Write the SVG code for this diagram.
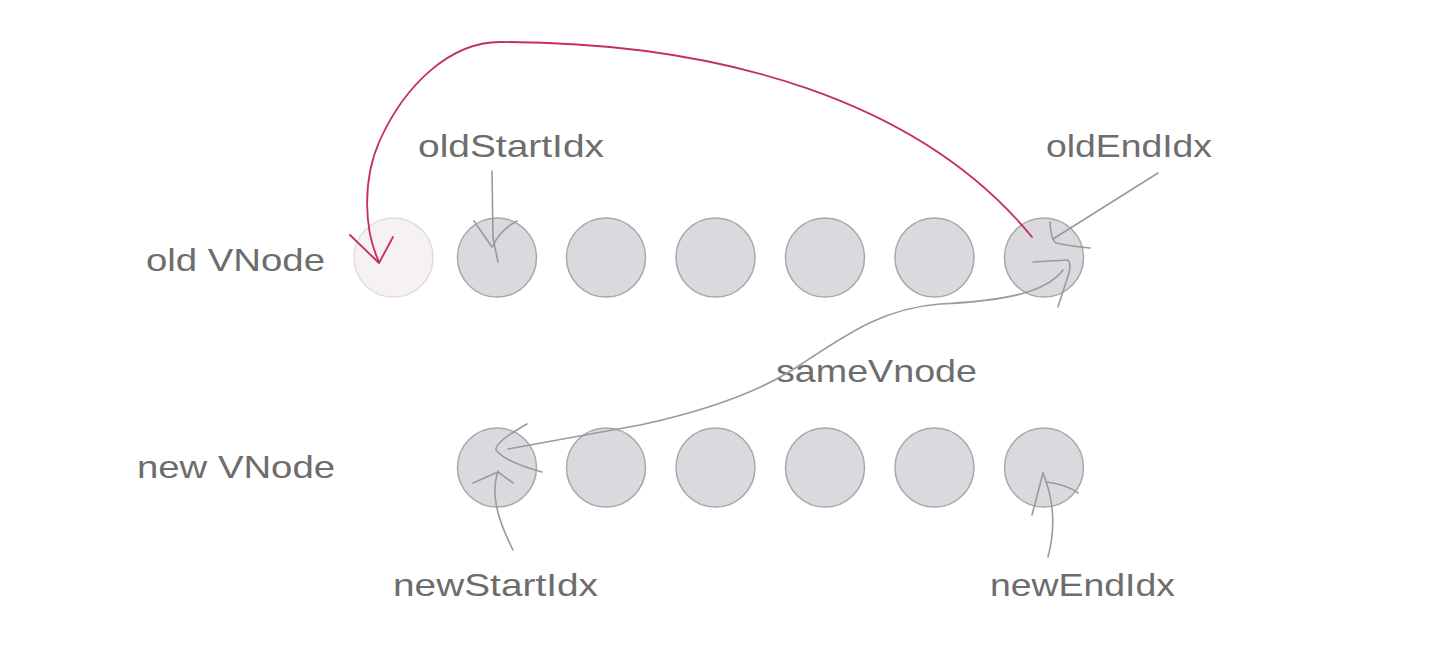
<svg xmlns="http://www.w3.org/2000/svg" width="1440" height="653" viewBox="0 0 1440 653">
<style>
.lbl{font-family:"Liberation Sans",Arial,sans-serif;font-size:30.5px;fill:#6d6d6d}
.node{fill:#dcd9de;stroke:#a9a7aa;stroke-width:1.5}
.ghost{fill:#f6f1f4;stroke:#e2dbdf;stroke-width:1.5}
.g{fill:none;stroke:#9a9a9a;stroke-width:1.6;stroke-linecap:round;stroke-linejoin:round}
.r{fill:none;stroke:#c3305a;stroke-width:1.8;stroke-linecap:round;stroke-linejoin:round}
</style>
<rect width="1440" height="653" fill="#ffffff"/>
<g id="labels">
<text class="lbl" x="146" y="271" textLength="179" lengthAdjust="spacingAndGlyphs">old VNode</text>
<text class="lbl" x="137" y="478" textLength="198" lengthAdjust="spacingAndGlyphs">new VNode</text>
<text class="lbl" x="418" y="157" textLength="186" lengthAdjust="spacingAndGlyphs">oldStartIdx</text>
<text class="lbl" x="1046" y="157" textLength="166" lengthAdjust="spacingAndGlyphs">oldEndIdx</text>
<text class="lbl" x="776" y="382" textLength="201" lengthAdjust="spacingAndGlyphs">sameVnode</text>
<text class="lbl" x="393" y="596" textLength="205" lengthAdjust="spacingAndGlyphs">newStartIdx</text>
<text class="lbl" x="990" y="596" textLength="185" lengthAdjust="spacingAndGlyphs">newEndIdx</text>
</g>
<g id="old-row">
<circle id="old-0" class="ghost" cx="393.5" cy="257.5" r="39.5"/>
<circle id="old-1" class="node" cx="497" cy="257.5" r="39.5"/>
<circle id="old-2" class="node" cx="606" cy="257.5" r="39.5"/>
<circle id="old-3" class="node" cx="715.5" cy="257.5" r="39.5"/>
<circle id="old-4" class="node" cx="825" cy="257.5" r="39.5"/>
<circle id="old-5" class="node" cx="934.5" cy="257.5" r="39.5"/>
<circle id="old-6" class="node" cx="1044" cy="257.5" r="39.5"/>
</g>
<g id="new-row">
<circle id="new-1" class="node" cx="497" cy="467.5" r="39.5"/>
<circle id="new-2" class="node" cx="606" cy="467.5" r="39.5"/>
<circle id="new-3" class="node" cx="715.5" cy="467.5" r="39.5"/>
<circle id="new-4" class="node" cx="825" cy="467.5" r="39.5"/>
<circle id="new-5" class="node" cx="934.5" cy="467.5" r="39.5"/>
<circle id="new-6" class="node" cx="1044" cy="467.5" r="39.5"/>
</g>
<g id="connectors">
<path class="r" d="M1032,237 C920,100 720,42 500,42 C450,42 405,85 380,140 C362,180 364,230 379,262"/>
<path class="r" d="M350,235 L379,263 L393,237"/>
<path class="g" d="M492,171 L493,238 L498,262"/>
<path class="g" d="M474,221 L492,247 M517,221 Q500,230 493,246"/>
<path class="g" d="M1158,173 L1053,239"/>
<path class="g" d="M1050,222 Q1051,240 1056,243 Q1070,246 1090,248"/>
<path class="g" d="M508,449 L640,425 C700,412 760,392 800,365 C850,332 885,308 940,304 C1000,301 1045,294 1063,270"/>
<path class="g" d="M527,424 Q495,442 496,450 Q505,462 542,472"/>
<path class="g" d="M1033,262 L1068,260 Q1072,264 1068,276 L1058,307"/>
<path class="g" d="M513,550 C498,520 490,495 498,471"/>
<path class="g" d="M473,483 L498,472 L513,483"/>
<path class="g" d="M1048,557 C1056,527 1054,500 1043,473"/>
<path class="g" d="M1043,473 L1032,515 M1046,482 Q1066,484 1078,493"/>
</g>
</svg>
